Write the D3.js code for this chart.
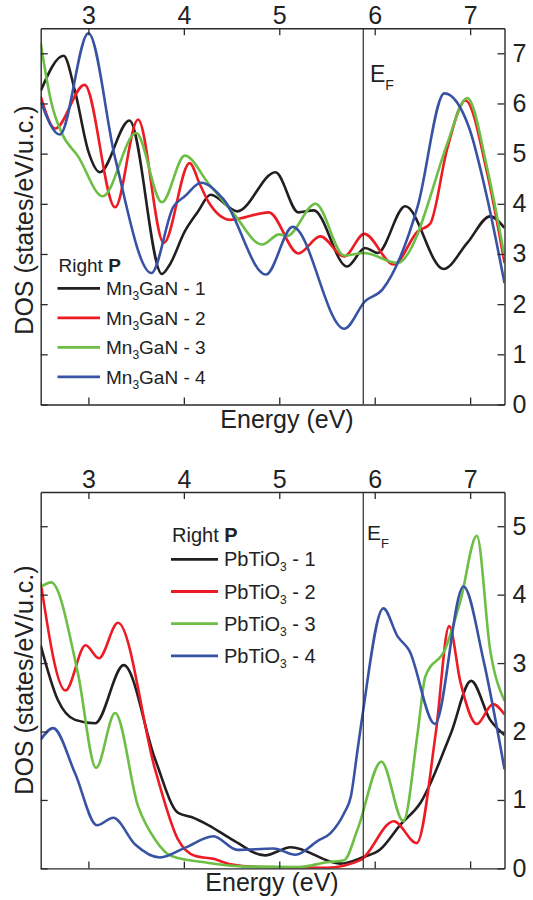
<!DOCTYPE html>
<html>
<head>
<meta charset="utf-8">
<script src="https://cdnjs.cloudflare.com/ajax/libs/d3/7.8.5/d3.min.js"></script>
<style>
  body { margin: 0; background: #fff; }
  svg { display: block; font-family: "Liberation Sans", Arial, Helvetica, sans-serif; }
</style>
</head>
<body>
<div id="chart"></div>
<script>
// energy axis (eV) and tick labels
const energyDomain = [2.5, 7.36]
const energyTicks = [3, 4, 5, 6, 7]
const fermiEnergy = 5.88
const topDosTicks = [0, 1, 2, 3, 4, 5, 6, 7]
const bottomDosTicks = [0, 1, 2, 3, 4, 5]

// top panel: Mn3GaN, [energy, DOS]
const mnGaN1 = [[2.5,6.25],[2.74,6.95],[2.86,6.24],[3.0,5.04],[3.12,4.63],[3.43,5.66],[3.77,2.60],[3.85,2.78],[4.01,3.45],[4.15,3.85],[4.28,4.18],[4.56,3.85],[4.96,4.63],[5.20,3.83],[5.36,3.87],[5.71,2.75],[5.90,3.12],[6.03,3.02],[6.32,3.95],[6.72,2.70],[6.97,3.22],[7.21,3.75],[7.36,3.52]]
const mnGaN2 = [[2.5,6.14],[2.65,5.50],[2.96,6.37],[3.28,3.93],[3.52,5.68],[3.79,3.22],[4.06,4.81],[4.17,4.38],[4.26,4.03],[4.49,3.68],[4.89,3.83],[5.20,3.01],[5.43,3.35],[5.68,2.95],[5.89,3.40],[6.20,2.79],[6.45,3.45],[6.58,3.60],[6.76,5.10],[6.95,6.06],[7.18,4.60],[7.36,2.82]]
const mnGaN3 = [[2.5,7.2],[2.61,6.03],[2.72,5.41],[2.89,4.95],[3.15,4.15],[3.50,5.41],[3.77,4.03],[4.01,4.96],[4.26,4.40],[4.52,3.81],[4.82,3.19],[5.00,3.39],[5.08,3.36],[5.38,4.00],[5.68,2.97],[5.89,3.02],[6.24,2.82],[6.45,3.40],[6.55,3.95],[6.76,5.20],[6.97,6.11],[7.18,4.70],[7.36,2.95]]
const mnGaN4 = [[2.5,6.04],[2.70,5.38],[3.00,7.40],[3.28,4.91],[3.66,2.62],[3.89,3.94],[4.01,4.15],[4.18,4.42],[4.42,4.08],[4.86,2.59],[5.14,3.54],[5.68,1.51],[5.90,2.06],[6.08,2.29],[6.45,3.95],[6.73,6.20],[6.99,5.51],[7.18,4.10],[7.36,2.42]]

// bottom panel: PbTiO3
const pbTiO1 = [[2.5,3.26],[2.68,2.46],[2.86,2.17],[3.07,2.12],[3.37,2.97],[3.70,1.59],[3.94,0.81],[4.08,0.75],[4.26,0.63],[4.52,0.41],[4.85,0.19],[5.12,0.31],[5.64,0.07],[5.87,0.16],[6.06,0.28],[6.27,0.64],[6.48,0.96],[6.80,1.98],[7.01,2.74],[7.21,2.17],[7.36,1.95]]
const pbTiO2 = [[2.5,4.18],[2.76,2.60],[2.97,3.26],[3.11,3.07],[3.31,3.59],[3.70,1.44],[3.94,0.42],[4.12,0.18],[4.31,0.14],[4.49,0.06],[4.8,0.02],[5.5,0.01],[5.85,0.12],[6.20,0.69],[6.44,0.37],[6.64,1.98],[6.78,3.54],[6.90,2.71],[7.07,2.11],[7.24,2.40],[7.36,2.25]]
const pbTiO3 = [[2.5,4.11],[2.61,4.18],[2.89,2.85],[3.08,1.47],[3.28,2.27],[3.52,0.91],[3.70,0.42],[3.87,0.18],[4.26,0.08],[4.6,0.03],[5.2,0.02],[5.50,0.09],[5.68,0.12],[5.82,0.57],[6.07,1.56],[6.30,0.69],[6.45,1.98],[6.53,2.80],[6.74,3.21],[6.90,3.92],[7.07,4.86],[7.21,3.19],[7.36,2.45]]
const pbTiO4 = [[2.5,1.88],[2.63,2.05],[2.86,1.39],[3.09,0.63],[3.26,0.74],[3.49,0.35],[3.75,0.16],[4.01,0.30],[4.31,0.47],[4.56,0.27],[4.94,0.29],[5.17,0.20],[5.40,0.40],[5.54,0.52],[5.68,0.81],[5.75,1.05],[5.82,1.73],[5.87,2.22],[6.09,3.80],[6.24,3.39],[6.36,3.19],[6.63,2.11],[6.93,4.12],[7.14,3.04],[7.36,1.45]]

const colors = ['#231f20', '#ed1c24', '#6cbe45', '#3953a4']
const axisColor = '#2a2a2a'

const svg = d3.select('#chart').append('svg')
    .attr('width', 533).attr('height', 900)

function drawPanel(p) {
    const x = d3.scaleLinear().domain(energyDomain).range([40.7, 504.5])
    const y = d3.scaleLinear().domain([0, p.dosMax]).range([p.bottom, p.top])
    const g = svg.append('g')

    // clip so curves stay in the frame
    g.append('clipPath').attr('id', p.id)
        .append('rect')
        .attr('x', x.range()[0]).attr('y', p.top)
        .attr('width', x.range()[1] - x.range()[0]).attr('height', p.bottom - p.top)

    let makeLine = d3.line().x(d => x(d[0])).y(d => y(d[1])).curve(d3.curveMonotoneX)
    p.series.forEach((s, i) => {
        g.append('path')
            .attr('d', makeLine(s))
            .attr('clip-path', `url(#${p.id})`)
            .attr('fill', 'none')
            .attr('stroke', colors[i])
            .attr('stroke-width', 2.6)
            .attr('stroke-linejoin', 'round')
    })

    // Fermi level
    g.append('line')
        .attr('x1', x(fermiEnergy)).attr('x2', x(fermiEnergy))
        .attr('y1', p.top).attr('y2', p.bottom)
        .attr('stroke', axisColor).attr('stroke-width', 1.2)

    // frame with inward ticks
    const axes = [
        [d3.axisTop(x).tickValues(energyTicks), `translate(0,${p.top})`, d3.format('d')],
        [d3.axisBottom(x).tickValues(energyTicks), `translate(0,${p.bottom})`, ''],
        [d3.axisLeft(y).tickValues(p.ticks), `translate(${x.range()[0]},0)`, ''],
        [d3.axisRight(y).tickValues(p.ticks), `translate(${x.range()[1]},0)`, d3.format('d')]
    ]
    axes.forEach(([axis, tr, fmt], i) => {
        axis.tickSizeInner(-7).tickSizeOuter(0).tickPadding(i == 3 ? 8 : 4).tickFormat(fmt)
        const a = g.append('g').attr('transform', tr).call(axis)
        a.select('.domain').attr('stroke', axisColor).attr('stroke-width', 1.4)
        a.selectAll('.tick line').attr('stroke', axisColor).attr('stroke-width', 1.3)
        a.selectAll('.tick text')
            .attr('fill', '#222')
            .style('font-size', '25px')
            .style('font-family', '"Liberation Sans", Arial, sans-serif')
    })

    // E_F label
    const ef = g.append('text')
        .attr('x', p.efX).attr('y', p.efY)
        .attr('fill', '#222')
        .style('font-size', p.efSize + 'px')
    ef.append('tspan').text('E')
    ef.append('tspan').text('F').attr('dy', 8).style('font-size', Math.round(p.efSize * 0.6) + 'px')

    // axis titles
    g.append('text')
        .attr('x', p.xTitleX).attr('y', p.bottom + 23)
        .attr('text-anchor', 'middle')
        .attr('fill', '#222')
        .style('font-size', '25px')
        .text('Energy (eV)')
    g.append('text')
        .attr('transform', `translate(33,${p.yTitleY}) rotate(-90)`)
        .attr('text-anchor', 'middle')
        .attr('fill', '#222')
        .style('font-size', '25px')
        .text('DOS (states/eV/u.c.)')

    // legend
    const L = p.legend
    const head = g.append('text')
        .attr('x', L.x + 1).attr('y', L.headY)
        .attr('fill', '#222')
        .style('font-size', L.size + 'px')
    head.append('tspan').text('Right ')
    head.append('tspan').text('P').style('font-weight', 'bold')

    p.names.forEach((n, i) => {
        const ly = L.y0 + i * L.step
        g.append('line')
            .attr('x1', L.x).attr('x2', L.x + L.len)
            .attr('y1', ly).attr('y2', ly)
            .attr('stroke', colors[i]).attr('stroke-width', 2.8)
        const t = g.append('text')
            .attr('x', L.x + L.len + 6).attr('y', ly + 7)
            .attr('fill', '#222')
            .style('font-size', L.size + 'px')
        t.append('tspan').text(n[0])
        t.append('tspan').text(n[1]).attr('dy', 5).style('font-size', Math.round(L.size * 0.62) + 'px')
        t.append('tspan').text(n[2]).attr('dy', -5)
    })
}

drawPanel({
    id: 'clipTop', top: 28.2, bottom: 404.5, dosMax: 7.5, ticks: topDosTicks,
    series: [mnGaN1, mnGaN2, mnGaN3, mnGaN4],
    names: [1, 2, 3, 4].map(k => ['Mn', '3', `GaN - ${k}`]),
    efX: 370, efY: 82, efSize: 23,
    xTitleX: 287, yTitleY: 220,
    legend: {x: 57.5, headY: 272, y0: 288.3, step: 29.5, len: 42.5, size: 19}
})

drawPanel({
    id: 'clipBottom', top: 492, bottom: 868.4, dosMax: 5.5, ticks: bottomDosTicks,
    series: [pbTiO1, pbTiO2, pbTiO3, pbTiO4],
    names: [1, 2, 3, 4].map(k => ['PbTiO', '3', ` - ${k}`]),
    efX: 367, efY: 540, efSize: 21,
    xTitleX: 272, yTitleY: 680,
    legend: {x: 171, headY: 541.7, y0: 559.3, step: 32.2, len: 47, size: 20}
})
</script>
</body>
</html>
